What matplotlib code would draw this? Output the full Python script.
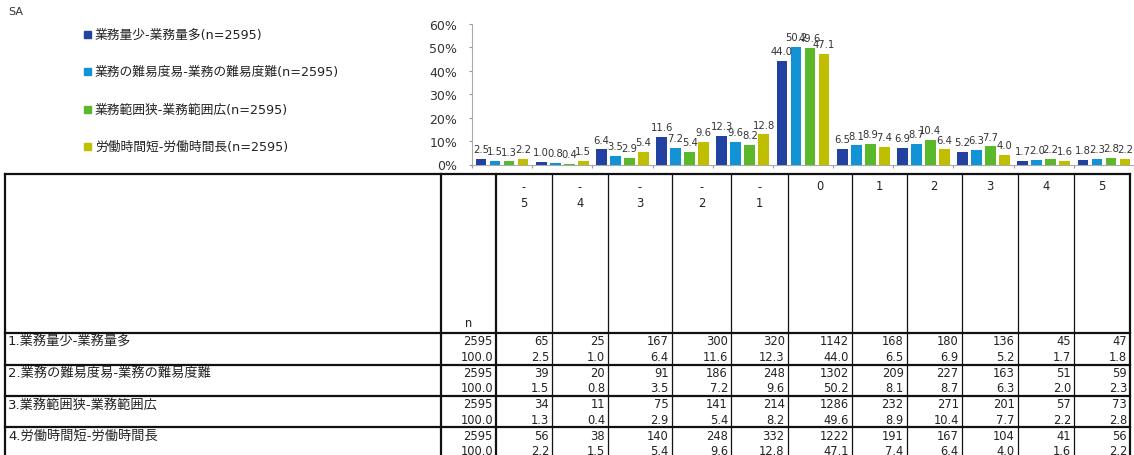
import matplotlib
matplotlib.use("Agg")
import matplotlib.pyplot as plt
import numpy as np

plt.rcParams['font.family'] = ['DejaVu Sans', 'Noto Sans CJK JP']

# ---- data ----
categories = ["-5", "-4", "-3", "-2", "-1", "0", "1", "2", "3", "4", "5"]
series_names = ["業務量少-業務量多", "業務の難易度易-業務の難易度難",
                "業務範囲狭-業務範囲広", "労働時間短-労働時間長"]
n_values = [2595, 2595, 2595, 2595]
counts_1 = [65, 25, 167, 300, 320, 1142, 168, 180, 136, 45, 47]
counts_2 = [39, 20, 91, 186, 248, 1302, 209, 227, 163, 51, 59]
counts_3 = [34, 11, 75, 141, 214, 1286, 232, 271, 201, 57, 73]
counts_4 = [56, 38, 140, 248, 332, 1222, 191, 167, 104, 41, 56]
pct_1 = [2.5, 1.0, 6.4, 11.6, 12.3, 44.0, 6.5, 6.9, 5.2, 1.7, 1.8]
pct_2 = [1.5, 0.8, 3.5, 7.2, 9.6, 50.2, 8.1, 8.7, 6.3, 2.0, 2.3]
pct_3 = [1.3, 0.4, 2.9, 5.4, 8.2, 49.6, 8.9, 10.4, 7.7, 2.2, 2.8]
pct_4 = [2.2, 1.5, 5.4, 9.6, 12.8, 47.1, 7.4, 6.4, 4.0, 1.6, 2.2]
yticks = [0, 10, 20, 30, 40, 50, 60]

counts = [counts_1, counts_2, counts_3, counts_4]
pcts = [pct_1, pct_2, pct_3, pct_4]
colors = ["#2142A0", "#1293D6", "#5BB82A", "#BFBF00"]

W, H = 1134, 456
fig = plt.figure(figsize=(W / 100, H / 100), dpi=100)

# overlay axes in pixel coordinates
ov = fig.add_axes([0, 0, 1, 1])
ov.set_xlim(0, W)
ov.set_ylim(H, 0)
ov.axis("off")

# ---- chart ----
ax_left, ax_right, ax_top, ax_bot = 472, 1134, 24.7, 165.5
ax = fig.add_axes([ax_left / W, 1 - ax_bot / H, (ax_right - ax_left) / W, (ax_bot - ax_top) / H])
x = np.arange(len(categories))
pitch = 0.2326
bw = 0.178
for i in range(4):
    xs = x + (i - 1.5) * pitch
    ax.bar(xs, pcts[i], width=bw, color=colors[i], zorder=3)
    for xv, v in zip(xs, pcts[i]):
        ax.annotate(f"{v:.1f}", (xv, v), xytext=(0, 3.5), textcoords="offset points",
                    ha="center", va="bottom", fontsize=7.2, color="#333333", zorder=4)
ax.set_xlim(-0.5, len(categories) - 0.5)
ax.set_ylim(0, 60)
ax.set_yticks(yticks)
ax.set_yticklabels([f"{t}%" for t in yticks], fontsize=9, color="#333333")
ax.set_xticks(np.arange(len(categories) + 1) - 0.5)
ax.set_xticklabels([])
ax.tick_params(axis="x", length=2.5, color="#999999", width=0.8)
ax.tick_params(axis="y", length=2.5, color="#999999", width=0.8, pad=8)
for s in ["top", "right"]:
    ax.spines[s].set_visible(False)
for s in ["left", "bottom"]:
    ax.spines[s].set_color("#AAAAAA")
    ax.spines[s].set_linewidth(0.8)
ax.patch.set_alpha(0)

# ---- legend ----
ov.text(8, 12, "SA", fontsize=8, va="center", ha="left", color="#333333")
leg_y = [35, 72.7, 110, 147.7]
for i in range(4):
    ov.add_patch(plt.Rectangle((84, leg_y[i] - 3.5), 7, 7, color=colors[i]))
    ov.text(95, leg_y[i], f"{series_names[i]}(n={n_values[i]})", fontsize=9.2,
            va="center", ha="left", color="#222222")

# ---- table ----
col_edges = [5, 440.7, 496, 552, 608, 671.7, 731, 787.7, 851.7, 906.7, 961.7, 1017.7, 1074, 1130]
t_top, hdr_bot = 175, 334
row_h = 31.5
n_rows = 4
row_edges = [hdr_bot + k * row_h for k in range(n_rows + 1)]
thick = 1.6
thin = 0.9
lc = "#111111"

# horizontal lines
ov.plot([col_edges[0], col_edges[-1]], [t_top, t_top], color=lc, lw=thick)
for yv in row_edges:
    ov.plot([col_edges[0], col_edges[-1]], [yv, yv], color=lc, lw=thick)
# vertical lines
for k, xv in enumerate(col_edges):
    lw = thick if k in (0, 1, 2, len(col_edges) - 1) else thin
    ov.plot([xv, xv], [t_top, H + 5], color=lc, lw=lw)

fs_t = 8.3
# header
for j, c in enumerate(categories):
    cx = (col_edges[j + 2] + col_edges[j + 3]) / 2
    if c.startswith("-"):
        ov.text(cx, 188, "-", fontsize=fs_t, ha="center", va="center", color="#222222")
        ov.text(cx, 204, c[1:], fontsize=fs_t, ha="center", va="center", color="#222222")
    else:
        ov.text(cx, 187, c, fontsize=fs_t, ha="center", va="center", color="#222222")
ov.text((col_edges[1] + col_edges[2]) / 2, 324, "n", fontsize=fs_t, ha="center", va="center", color="#222222")

# rows
for r in range(n_rows):
    top = row_edges[r]
    y1 = top + 8
    y2 = top + 23.5
    ov.text(8, y1, f"{r + 1}.{series_names[r]}", fontsize=9.5, ha="left", va="center", color="#222222")
    ov.text(col_edges[2] - 3, y1, f"{n_values[r]}", fontsize=fs_t, ha="right", va="center", color="#222222")
    ov.text(col_edges[2] - 3, y2, "100.0", fontsize=fs_t, ha="right", va="center", color="#222222")
    for j in range(len(categories)):
        rx = col_edges[j + 3] - 3
        ov.text(rx, y1, f"{counts[r][j]}", fontsize=fs_t, ha="right", va="center", color="#222222")
        ov.text(rx, y2, f"{pcts[r][j]:.1f}", fontsize=fs_t, ha="right", va="center", color="#222222")

fig.savefig("out.png", dpi=100)
